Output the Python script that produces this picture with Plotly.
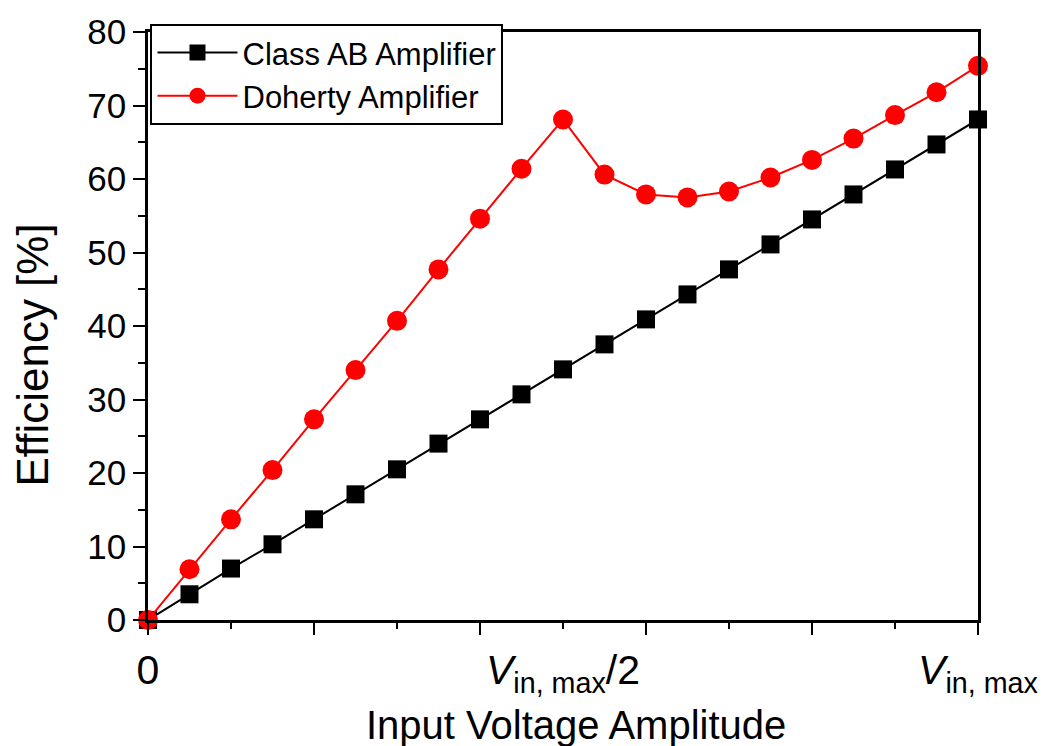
import plotly.graph_objects as go

# Data (x as fraction of V_in,max)
x_frac = [0.00, 0.05, 0.10, 0.15, 0.20, 0.25, 0.30, 0.35, 0.40, 0.45, 0.50,
          0.55, 0.60, 0.65, 0.70, 0.75, 0.80, 0.85, 0.90, 0.95, 1.00]
class_ab = [0.0, 3.5, 7.0, 10.3, 13.7, 17.1, 20.5, 24.0, 27.3, 30.7, 34.1,
            37.5, 40.9, 44.3, 47.7, 51.1, 54.5, 57.9, 61.3, 64.7, 68.1]
doherty = [0.0, 6.9, 13.7, 20.4, 27.3, 34.0, 40.7, 47.7, 54.6, 61.4, 68.1,
           60.6, 57.9, 57.5, 58.3, 60.2, 62.6, 65.5, 68.7, 71.8, 75.4]

x_major_ticks = [0.0, 0.2, 0.4, 0.6, 0.8, 1.0]
x_minor_ticks = [0.1, 0.3, 0.5, 0.7, 0.9]
x_label_vals = [0.0, 0.5, 1.0]
x_label_text = ["0", "<i>V</i><sub>in, max</sub>/2", "<i>V</i><sub>in, max</sub>"]
x_title = "Input Voltage Amplitude"
y_title = "Efficiency [%]"

FONT = "Liberation Sans, Arial, Helvetica, sans-serif"

fig = go.Figure()
fig.add_trace(go.Scatter(
    x=x_frac, y=class_ab, mode="lines+markers", name="Class AB Amplifier",
    line=dict(color="black", width=2),
    marker=dict(symbol="square", size=18, color="black"),
    cliponaxis=False,
))
fig.add_trace(go.Scatter(
    x=x_frac, y=doherty, mode="lines+markers", name="Doherty Amplifier",
    line=dict(color="#ff0000", width=2),
    marker=dict(symbol="circle", size=20, color="#ff0000"),
    cliponaxis=False,
))
# invisible helper trace so the label axis is drawn
fig.add_trace(go.Scatter(x=[0, 1], y=[None, None], xaxis="x2", showlegend=False,
                         hoverinfo="skip", mode="lines"))

fig.update_layout(
    width=1052, height=746,
    margin=dict(l=148, r=74, t=24, b=126),
    paper_bgcolor="white", plot_bgcolor="white",
    font=dict(family=FONT, color="black"),
    showlegend=True,
    legend=dict(
        x=0.003, y=1.014, xanchor="left", yanchor="top",
        bgcolor="white", bordercolor="black", borderwidth=2,
        font=dict(size=31, family=FONT, color="black"),
        itemwidth=80, tracegroupgap=0,
    ),
    xaxis=dict(
        range=[0, 1], showgrid=False, zeroline=False,
        showline=True, linecolor="black", linewidth=2.5, mirror=True,
        tickmode="array", tickvals=x_major_ticks, ticks="outside",
        ticklen=12, tickwidth=2, tickcolor="black", showticklabels=False,
        minor=dict(tickmode="array", tickvals=x_minor_ticks, ticks="outside",
                   ticklen=6, tickwidth=2, tickcolor="black", showgrid=False),
    ),
    xaxis2=dict(
        range=[0, 1], overlaying="x", anchor="y", side="bottom",
        showgrid=False, zeroline=False, showline=False, ticks="",
        tickmode="array", tickvals=x_label_vals, ticktext=x_label_text,
        tickfont=dict(size=41, family=FONT, color="black"),
        ticklabelstandoff=22,
    ),
    yaxis=dict(
        range=[0, 80], showgrid=False, zeroline=False,
        showline=True, linecolor="black", linewidth=2.5, mirror=True,
        tickmode="linear", tick0=0, dtick=10, ticks="outside",
        ticklen=12, tickwidth=2, tickcolor="black",
        tickfont=dict(size=35, family=FONT, color="black"),
        minor=dict(tickmode="linear", tick0=0, dtick=5, ticks="outside",
                   ticklen=7, tickwidth=2, tickcolor="black", showgrid=False),
    ),
    annotations=[
        dict(text=x_title, xref="paper", yref="paper", x=(576 - 148) / 830,
             y=(620 - 726) / 596, xanchor="center", yanchor="middle",
             showarrow=False, font=dict(size=40, family=FONT, color="black")),
        dict(text=y_title, xref="paper", yref="paper", x=(33 - 148) / 830,
             y=(620 - 352) / 596, xanchor="center", yanchor="middle",
             textangle=-90, showarrow=False,
             font=dict(size=44, family=FONT, color="black")),
    ],
)

fig.write_html("out.html")
